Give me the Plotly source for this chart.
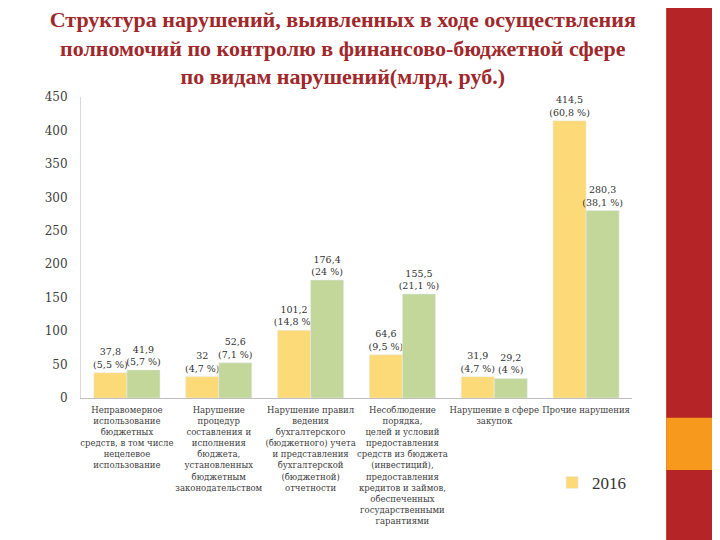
import plotly.graph_objects as go

categories = [
    "Неправомерное<br>использование<br>бюджетных<br>средств, в том числе<br>нецелевое<br>использование",
    "Нарушение<br>процедур<br>составления и<br>исполнения<br>бюджета,<br>установленных<br>бюджетным<br>законодательством",
    "Нарушение правил<br>ведения<br>бухгалтерского<br>(бюджетного) учета<br>и представления<br>бухгалтерской<br>(бюджетной)<br>отчетности",
    "Несоблюдение<br>порядка,<br>целей и условий<br>предоставления<br>средств из бюджета<br>(инвестиций),<br>предоставления<br>кредитов и займов,<br>обеспеченных<br>государственными<br>гарантиями",
    "Нарушение в сфере<br>закупок",
    "Прочие нарушения",
]
values_2016 = [37.8, 32, 101.2, 64.6, 31.9, 414.5]
pct_2016 = [5.5, 4.7, 14.8, 9.5, 4.7, 60.8]
values_2017 = [41.9, 52.6, 176.4, 155.5, 29.2, 280.3]
pct_2017 = [5.7, 7.1, 24, 21.1, 4, 38.1]

def fmt(v):
    return ("%g" % v).replace(".", ",")

def labels(vals, pcts):
    return [fmt(v) + "<br>(" + fmt(p) + " %)" for v, p in zip(vals, pcts)]

serif = "DejaVu Serif"
title_font = "Liberation Serif"
x_idx = list(range(len(categories)))

fig = go.Figure()
fig.add_trace(go.Bar(
    x=x_idx, y=values_2016, name="2016",
    marker_color="#FDDA78",
    text=labels(values_2016, pct_2016),
    textposition="outside",
    constraintext="none",
    cliponaxis=False,
    textfont=dict(family=serif, size=9.5, color="#333333"),
))
fig.add_trace(go.Bar(
    x=x_idx, y=values_2017, name="2017",
    marker_color="#C4D79B",
    text=labels(values_2017, pct_2017),
    textposition="outside",
    constraintext="none",
    cliponaxis=False,
    textfont=dict(family=serif, size=9.5, color="#333333"),
    showlegend=False,
))

# right decorative band
fig.add_shape(type="rect", xref="paper", yref="paper", x0=1.062, x1=1.3,
              y0=-0.6, y1=1.4, fillcolor="#B52426", line_width=0, layer="below")
fig.add_shape(type="rect", xref="paper", yref="paper", x0=1.062, x1=1.3,
              y0=-0.239, y1=-0.066, fillcolor="#F7991C", line_width=0, layer="below")

fig.update_layout(
    width=720, height=540,
    margin=dict(l=73, r=96, t=89, b=150, autoexpand=False),
    paper_bgcolor="white", plot_bgcolor="white",
    barmode="group", bargap=0.28, bargroupgap=0,
    title=dict(
        text="Структура нарушений, выявленных в ходе осуществления<br>"
             "полномочий по контролю в финансово-бюджетной сфере<br>"
             "по видам нарушений(млрд. руб.)",
        x=0.465, xanchor="center", xref="container",
        y=0.965, yanchor="top", yref="container",
        font=dict(family=title_font, size=22, color="#A0282B", weight="bold"),
    ),
    showlegend=True,
    legend=dict(x=0.855, y=-0.282, xanchor="left", yanchor="middle",
                font=dict(family=title_font, size=17, color="#333333"),
                bgcolor="rgba(0,0,0,0)", itemwidth=30),
    font=dict(family=serif),
)
fig.update_xaxes(
    tickmode="array", tickvals=x_idx, ticktext=categories,
    tickfont=dict(family=serif, size=8.5, color="#404040"),
    showline=True, linecolor="#BFBFBF", linewidth=1, automargin=False,
    ticks="", showgrid=False, range=[-0.5, 5.5], tickangle=0,
    ticklabelstandoff=4,
)
fig.update_yaxes(
    range=[0, 450], dtick=50, automargin=False,
    tickfont=dict(family=serif, size=12, color="#404040"),
    showline=True, linecolor="#D9D9D9", linewidth=1,
    showgrid=False, zeroline=False, ticks="", ticklabelstandoff=10,
)

fig.write_html("out.html")
